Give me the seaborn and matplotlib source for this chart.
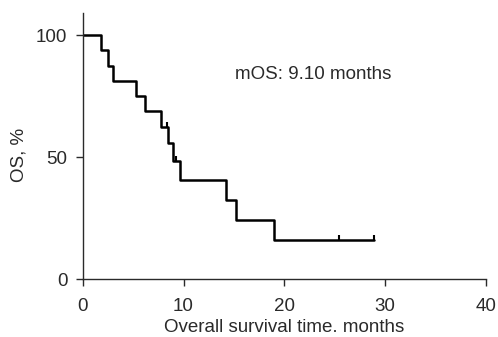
import matplotlib
matplotlib.use("Agg")
import matplotlib.pyplot as plt
import seaborn as sns
import pandas as pd

# Kaplan-Meier step data
step_times = [0, 1.8, 2.5, 3.0, 5.3, 6.2, 7.8, 8.5, 9.0, 9.7, 14.2, 15.2, 19.0, 28.9]
step_surv = [100, 93.75, 87.5, 81.25, 75, 68.75, 62.5, 55.6, 48.6, 40.5, 32.4, 24.3, 16.2, 16.2]
censor_times = [8.4, 9.3, 25.4, 28.9]
censor_surv = [62.5, 48.6, 16.2, 16.2]
x_ticks = [0, 10, 20, 30, 40]
y_ticks = [0, 50, 100]
annotation = "mOS: 9.10 months"

sns.set_theme(style="ticks")
plt.rcParams['font.family'] = ['Liberation Sans', 'DejaVu Sans']

fs = 13.5
tc = "#2a2a2a"
fig = plt.figure(figsize=(4.98, 3.37), dpi=100)
ax = fig.add_axes([0.166, 0.172, 0.81, 0.7885])

df = pd.DataFrame({"t": step_times, "s": step_surv})
sns.lineplot(data=df, x="t", y="s", ax=ax, drawstyle="steps-post",
             color="black", linewidth=1.8, estimator=None, sort=False)
cdf = pd.DataFrame({"t": censor_times, "s": censor_surv})
sns.scatterplot(data=cdf, x="t", y="s", ax=ax, marker=2, s=14,
                color="black", linewidth=1.5, zorder=3)

ax.set_xlim(0, 40)
ax.set_ylim(0, 109)
ax.set_xticks(x_ticks)
ax.set_yticks(y_ticks)
ax.set_xlabel("Overall survival time. months", fontsize=fs, color=tc, labelpad=2.5)
ax.set_ylabel("OS, %", fontsize=fs, color=tc)
ax.yaxis.set_label_coords(-0.138, 0.466)
ax.tick_params(axis="both", direction="out", length=5, width=1, colors=tc,
               labelsize=fs)
ax.tick_params(axis="x", pad=9)
ax.tick_params(axis="y", pad=6)
for side in ["top", "right"]:
    ax.spines[side].set_visible(False)
for side in ["left", "bottom"]:
    ax.spines[side].set_color(tc)
    ax.spines[side].set_linewidth(1)

ax.text(15.1, 84.0, annotation, fontsize=fs, color=tc, va="center", ha="left")

fig.savefig("out.png", dpi=100)
